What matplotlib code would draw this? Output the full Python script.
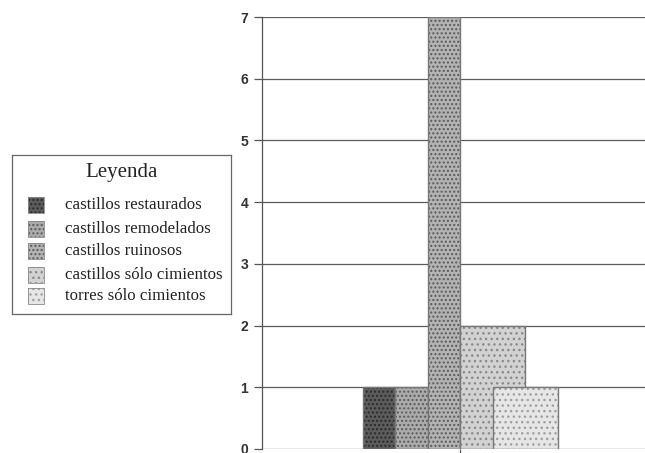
import matplotlib
matplotlib.use("Agg")
import matplotlib.pyplot as plt
from matplotlib.patches import Rectangle

# data
categories = ["castillos restaurados", "castillos remodelados", "castillos ruinosos",
              "castillos sólo cimientos", "torres sólo cimientos"]
values = [1, 1, 7, 2, 1]
yticks = [0, 1, 2, 3, 4, 5, 6, 7]

# layout / style
lefts = [3.1, 4.1, 5.1, 6.1, 7.1]
widths = [1, 1, 1, 2, 2]
faces = ["#5c5c5c", "#ababab", "#b3b3b3", "#d2d2d2", "#e6e6e6"]
hatchc = ["#2a2a2a", "#5a5a5a", "#5a5a5a", "#8a8a8a", "#a0a0a0"]
hatches = ["....", "....", "....", "...", "..."]

fig = plt.figure(figsize=(6.45, 4.53), dpi=100)
ax = fig.add_axes([262/645, 1-449/453, (645-262)/645, (449-17)/453])
ax.set_xlim(0, (645-262)/32.5)
ax.set_ylim(0, 7)

for y in yticks:
    ax.axhline(y, color="#5a5a5a", lw=0.9, zorder=1)

for i in range(len(values)):
    ax.bar(lefts[i], values[i], width=widths[i], align="edge", color=faces[i],
           hatch=hatches[i], edgecolor=hatchc[i], lw=0, zorder=2 + 2*i)
    ax.bar(lefts[i], values[i], width=widths[i], align="edge", fill=False,
           edgecolor="#777777", lw=1.0, zorder=3 + 2*i)

for s in ["top", "right", "bottom"]:
    ax.spines[s].set_visible(False)
ax.spines["left"].set_color("#555555")
ax.spines["left"].set_linewidth(0.9)
ax.set_yticks(yticks)
ax.set_yticklabels([str(t) for t in yticks], fontfamily="Liberation Sans",
                   fontweight="bold", fontsize=10, color="#333333")
ax.tick_params(axis="y", length=6, width=0.9, color="#555555", pad=4)
ax.set_xticks([lefts[3]])
ax.set_xticklabels([""])
ax.tick_params(axis="x", length=5, width=0.9, color="#555555", direction="out")

# legend
lax = fig.add_axes([12/645, 1-314/453, 219/645, 159/453])
lax.set_xlim(0, 219)
lax.set_ylim(159, 0)
lax.set_xticks([])
lax.set_yticks([])
for s in lax.spines.values():
    s.set_color("#666666")
    s.set_linewidth(0.9)
lax.text(110, 18, "Leyenda", ha="center", va="center", fontfamily="Liberation Serif",
         fontsize=15, color="#222222")
row_y = [50, 74, 96, 120, 141]
for i, lab in enumerate(categories):
    yy = row_y[i]
    lax.add_patch(Rectangle((16, yy-8), 16, 16, facecolor=faces[i], hatch=hatches[i],
                            edgecolor=hatchc[i], lw=0))
    lax.add_patch(Rectangle((16, yy-8), 16, 16, fill=False, edgecolor="#888888", lw=0.6))
    lax.text(53, yy, lab, ha="left", va="center", fontfamily="Liberation Serif",
             fontsize=12.2, color="#222222")

fig.savefig("out.png", dpi=100)
